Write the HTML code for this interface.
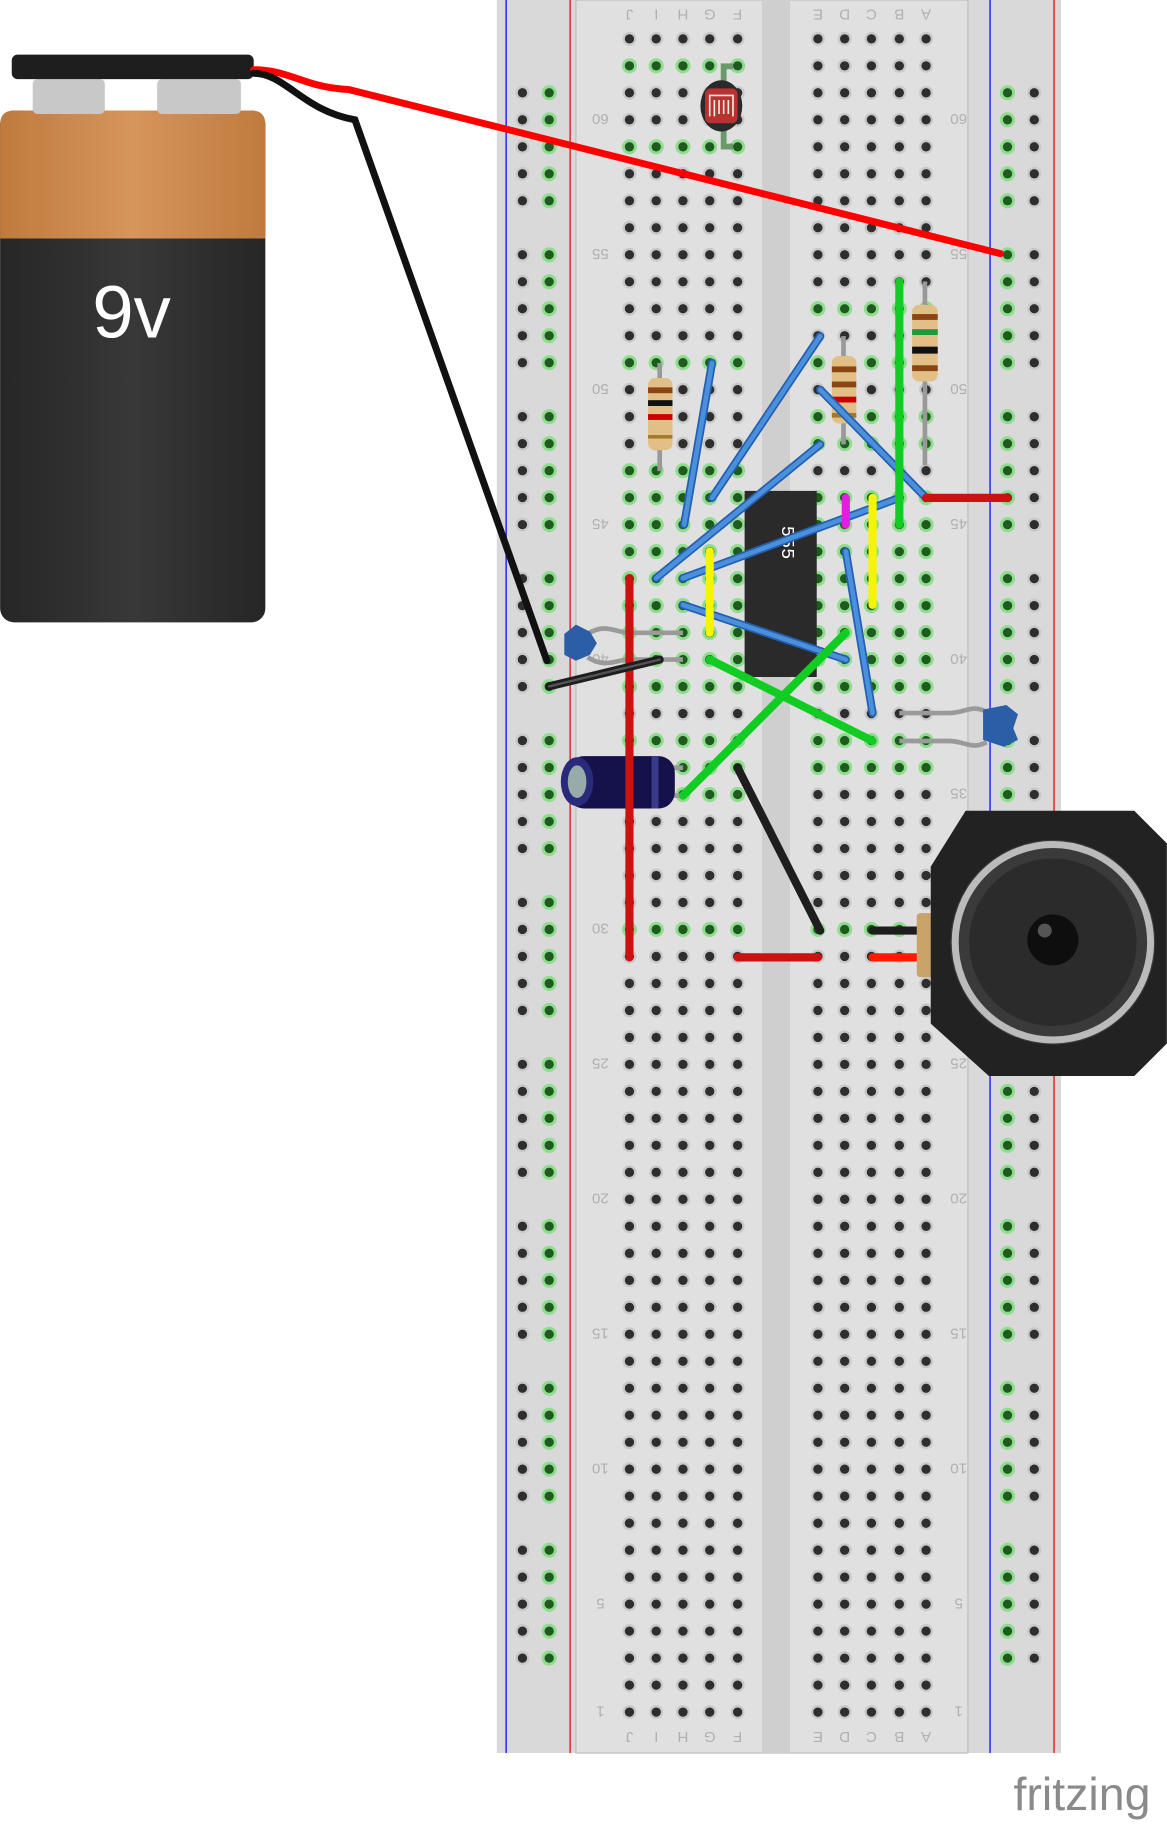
<!DOCTYPE html>
<html><head><meta charset="utf-8"><style>
html,body{margin:0;padding:0;background:#fff;width:1167px;height:1824px;overflow:hidden}
svg{display:block}
</style></head><body>
<svg id="s" width="1167" height="1824" viewBox="0 0 1003 1568" xmlns="http://www.w3.org/2000/svg">
<defs>
<linearGradient id="org" x1="0" x2="1"><stop offset="0" stop-color="#c07a3e"/><stop offset=".5" stop-color="#d6955a"/><stop offset="1" stop-color="#c07a3e"/></linearGradient>
<linearGradient id="blk" x1="0" x2="1"><stop offset="0" stop-color="#262626"/><stop offset=".5" stop-color="#383838"/><stop offset="1" stop-color="#262626"/></linearGradient>
</defs>
<!-- breadboard -->
<rect x="427" y="0" width="485" height="1507" fill="#d9d9d9"/>
<rect x="495" y="0" width="337" height="1507" fill="#e0e0e0" stroke="#bdbdbd" stroke-width="1"/>
<rect x="655" y="0" width="24" height="1507" fill="#cfcfcf"/>
<line x1="435" y1="0" x2="435" y2="1507" stroke="#1a1aff" stroke-width="1.2"/>
<line x1="490" y1="0" x2="490" y2="1507" stroke="#e02020" stroke-width="1.2"/>
<line x1="851" y1="0" x2="851" y2="1507" stroke="#1a1aff" stroke-width="1.2"/>
<line x1="906" y1="0" x2="906" y2="1507" stroke="#e02020" stroke-width="1.2"/>
<g id="holes"></g>
<g id="labels" fill="#b0b0b0" font-family="Liberation Sans, sans-serif" font-size="13"></g>

<!-- photoresistor -->
<path d="M630 57 H622 V126 H630" stroke="#6a9a6a" stroke-width="5" fill="none"/>
<ellipse cx="620" cy="91" rx="18" ry="22" fill="#2a2a2a"/>
<rect x="606" y="76" width="28" height="30" rx="5" fill="#b83232"/>
<path d="M610 100 V82 H630 V100 M614 100 V86 M618 86 V98 M622 98 V86 M626 86 V98" stroke="#eed" stroke-width="1.4" fill="none"/>

<!-- resistors -->
<g>
<line x1="567" y1="312" x2="567" y2="405" stroke="#999" stroke-width="4"/>
<rect x="557" y="325" width="21" height="62" rx="6" fill="#e2bf86"/>
<rect x="557" y="333" width="21" height="5" fill="#8b4513"/><rect x="557" y="344" width="21" height="5" fill="#111"/><rect x="557" y="356" width="21" height="5" fill="#c00"/><rect x="557" y="374" width="21" height="3" fill="#a07a2a"/>
<line x1="725" y1="289" x2="725" y2="382" stroke="#999" stroke-width="4"/>
<rect x="715" y="306" width="21" height="58" rx="6" fill="#e2bf86"/>
<rect x="715" y="315" width="21" height="5" fill="#8b4513"/><rect x="715" y="328" width="21" height="5" fill="#8b4513"/><rect x="715" y="341" width="21" height="5" fill="#c00"/><rect x="715" y="355" width="21" height="4" fill="#a07a2a"/>
<line x1="795" y1="242" x2="795" y2="400" stroke="#999" stroke-width="4"/>
<rect x="784" y="262" width="22" height="66" rx="6" fill="#e2bf86"/>
<rect x="784" y="270" width="22" height="5" fill="#8b4513"/><rect x="784" y="283" width="22" height="5" fill="#1a9a3a"/><rect x="784" y="298" width="22" height="6" fill="#111"/><rect x="784" y="314" width="22" height="5" fill="#8b4513"/>
</g>

<!-- IC -->
<rect x="640" y="422" width="62" height="160" fill="#2a2a2a"/>
<g fill="#6a9a6a"><rect x="634" y="432" width="8" height="148" fill="none"/></g>
<text x="672" y="452" fill="#fff" font-family="Liberation Mono, monospace" font-size="16" transform="rotate(90 672 452)">555</text>

<!-- ceramic caps -->
<path d="M505 545 C520 535 530 544 540 544 H587 M505 565 C520 575 530 567 540 567 H587" stroke="#9a9a9a" stroke-width="4" fill="none"/>
<path d="M485 545 l10 -8 l12 6 l6 10 l-6 10 l-12 5 l-10 -5 z" fill="#2a5fa8"/>
<path d="M773 613 H815 C830 613 835 605 848 612 M773 637 H815 C830 637 835 645 848 638" stroke="#9a9a9a" stroke-width="4" fill="none"/>
<path d="M845 610 l20 -4 l10 8 l-4 12 l4 10 l-12 6 l-18 -6 z" fill="#2a5fa8"/>

<!-- electrolytic -->
<path d="M575 660 H587 M575 684 H587" stroke="#9a9a9a" stroke-width="4"/>
<rect x="488" y="650" width="92" height="45" rx="14" fill="#15114a"/>
<ellipse cx="496" cy="672" rx="14" ry="21" fill="#2a2a7a"/>
<ellipse cx="496" cy="672" rx="8" ry="14" fill="#9aa"/>
<rect x="560" y="650" width="6" height="45" fill="#3a3a8a"/>

<!-- wires -->
<g stroke-linecap="round" stroke-width="7" fill="none">
<g stroke="#2560b0"><line x1="612" y1="312" x2="588" y2="451"/><line x1="705" y1="289" x2="612" y2="428"/><line x1="705" y1="335" x2="796" y2="428"/><line x1="705" y1="382" x2="564" y2="497"/><line x1="773" y1="428" x2="587" y2="497"/><line x1="587" y1="520" x2="727" y2="567"/><line x1="727" y1="474" x2="750" y2="613"/></g>
<g stroke="#4a90dd" stroke-width="4"><line x1="612" y1="312" x2="588" y2="451"/><line x1="705" y1="289" x2="612" y2="428"/><line x1="705" y1="335" x2="796" y2="428"/><line x1="705" y1="382" x2="564" y2="497"/><line x1="773" y1="428" x2="587" y2="497"/><line x1="587" y1="520" x2="727" y2="567"/><line x1="727" y1="474" x2="750" y2="613"/></g>
<g stroke="#11cc22"><line x1="773" y1="242" x2="773" y2="451"/><line x1="610" y1="567" x2="750" y2="637"/><line x1="727" y1="544" x2="587" y2="684"/></g>
<g stroke="#f5f500"><line x1="610" y1="474" x2="610" y2="544"/><line x1="750" y1="428" x2="750" y2="520"/></g>
<line x1="727" y1="428" x2="727" y2="451" stroke="#e020e0"/>
<g stroke="#cc1111"><line x1="541" y1="497" x2="541" y2="823"/><line x1="634" y1="823" x2="703" y2="823"/><line x1="796" y1="428" x2="866" y2="428"/><line x1="750" y1="823" x2="800" y2="823" stroke="#ff1a00"/></g>
<g stroke="#1e1e1e"><line x1="634" y1="660" x2="705" y2="800"/><line x1="472" y1="590" x2="567" y2="567"/><line x1="750" y1="800" x2="800" y2="800"/></g>
<line x1="472" y1="590" x2="567" y2="567" stroke="#555" stroke-width="2"/>
</g>

<!-- speaker -->
<rect x="788" y="785" width="16" height="55" rx="3" fill="#c9a36a"/>
<path d="M830 697 H975 L1003 725 V897 L975 925 H850 L800 880 V745 Z" fill="#222"/>
<circle cx="905" cy="810" r="88" fill="#3a3a3a"/>
<circle cx="905" cy="810" r="84" fill="none" stroke="#bbb" stroke-width="6"/>
<circle cx="905" cy="810" r="72" fill="#2b2b2b"/>
<circle cx="905" cy="808" r="22" fill="#0e0e0e"/>
<circle cx="898" cy="800" r="6" fill="#555"/>

<!-- battery -->
<rect x="0" y="95" width="228" height="440" rx="12" fill="url(#blk)"/>
<path d="M12 95 H216 Q228 95 228 107 V205 H0 V107 Q0 95 12 95Z" fill="url(#org)"/>
<text x="113" y="290" fill="#fff" font-family="Liberation Sans, sans-serif" font-size="64" text-anchor="middle">9v</text>
<rect x="28" y="68" width="62" height="30" rx="4" fill="#c8c8c8"/>
<rect x="135" y="68" width="72" height="30" rx="4" fill="#c8c8c8"/>
<rect x="10" y="47" width="208" height="21" rx="5" fill="#1e1e1e"/>

<!-- battery wires -->
<path d="M218 60 C250 60 260 75 300 77 L860 218" stroke="#ff0000" stroke-width="6" fill="none" stroke-linecap="round"/>
<path d="M218 63 C245 63 260 95 305 103 L470 568" stroke="#111" stroke-width="6" fill="none" stroke-linecap="round"/>

<text x="930" y="1556" fill="#8a8a8a" font-family="Liberation Sans, sans-serif" font-size="40" text-anchor="middle">fritzing</text>
</svg>
<script>
var NS="http://www.w3.org/2000/svg",H=document.getElementById("holes"),L=document.getElementById("labels");
function Y(r){return 103+(60-r)*23.2;}
function hole(x,y,g){var c=document.createElementNS(NS,"circle");c.setAttribute("cx",x);c.setAttribute("cy",y);c.setAttribute("r",g?6.5:6);c.setAttribute("fill",g?"#8fdc8f":"#c8c8c8");H.appendChild(c);
var d=document.createElementNS(NS,"circle");d.setAttribute("cx",x);d.setAttribute("cy",y);d.setAttribute("r",4);d.setAttribute("fill",g?"#1f5a1f":"#2e2e2e");H.appendChild(d);}
var lc=[541,564,587,610,634],rc=[703,726,749,773,796];
var lg=[62,59,51,47,46,45,44,43,42,41,40,39,37,36,35,30],rg=[53,51,49,48,46,45,44,43,42,41,40,39,37,36,30];
for(var r=1;r<=63;r++){lc.forEach(function(x){hole(x,Y(r),lg.indexOf(r)>=0)});rc.forEach(function(x){hole(x,Y(r),rg.indexOf(r)>=0)});}
for(var g=0;g<10;g++){for(var k=0;k<5;k++){var r=61-g*6-k,y=Y(r);hole(449,y,false);hole(472,y,true);hole(866,y,true);hole(889,y,false);}}
function t(x,y,s){var e=document.createElementNS(NS,"text");e.setAttribute("x",x);e.setAttribute("y",y);e.setAttribute("text-anchor","middle");e.setAttribute("transform","rotate(180 "+x+" "+(y-5)+")");e.textContent=s;L.appendChild(e);}
[1,5,10,15,20,25,30,35,40,45,50,55,60].forEach(function(n){t(516,Y(n)+5,n);t(824,Y(n)+5,n);});
"JIHGF".split("").forEach(function(c,i){t(lc[i],18,c);t(lc[i],1499,c);});
"EDCBA".split("").forEach(function(c,i){t(rc[i],18,c);t(rc[i],1499,c);});
</script>
</body></html>
